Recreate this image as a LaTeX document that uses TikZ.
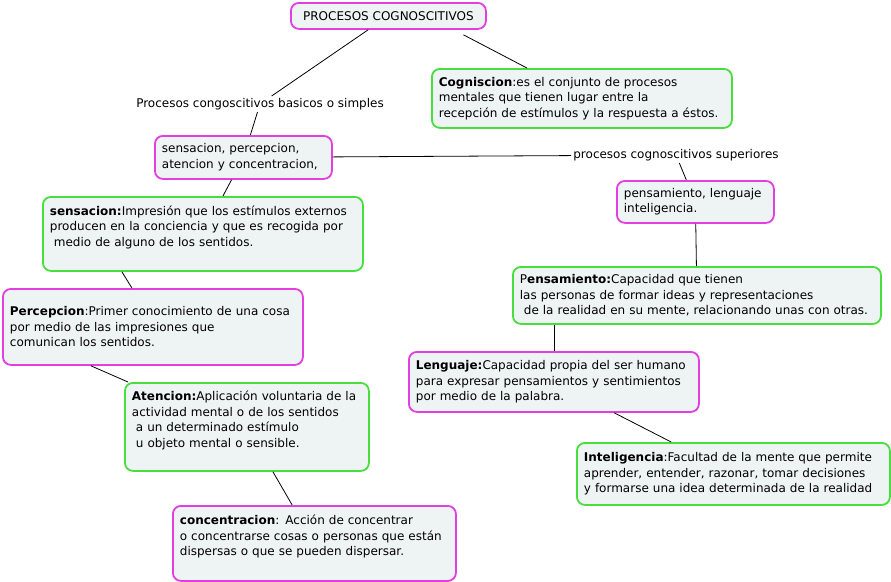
\documentclass[tikz,border=0pt]{standalone}
\usepackage{fontspec}
\setmainfont{DejaVu Sans}
\usepackage{tikz}
\usetikzlibrary{positioning}
\definecolor{cmpink}{RGB}{226,62,226}
\definecolor{cmgreen}{RGB}{72,222,62}
\definecolor{cmfill}{RGB}{238,243,244}

\begin{document}
\begin{tikzpicture}[x=1pt, y=-1pt, concept/.style={draw, rounded corners=8pt, line width=1.8pt, fill=cmfill, anchor=north west, align=left, inner xsep=7pt, inner ysep=2pt}, pinkbox/.style={concept, draw=cmpink}, greenbox/.style={concept, draw=cmgreen}, phrase/.style={inner sep=2pt}]
\tikzset{every node/.append style={font=\fontsize{12}{15.5}\selectfont}}
\useasboundingbox (0,0) rectangle (891,581);

\node[pinkbox, align=center, minimum width=195pt, minimum height=26pt] (title) at (290,2) {PROCESOS COGNOSCITIVOS};
\node[greenbox, minimum width=300pt, minimum height=59pt, text width=286pt] (cogni) at (431,68) {\textbf{Cogniscion}:es el conjunto de procesos\\mentales que tienen lugar entre la\\recepción de estímulos y la respuesta a éstos.};
\node[phrase] (lblbasic) at (260,104) {Procesos congoscitivos basicos o simples};
\node[pinkbox, minimum width=177pt, minimum height=43pt, text width=163pt] (basic) at (154,135) {sensacion, percepcion,\\atencion y concentracion,};
\node[phrase] (lblsuper) at (676,155) {procesos cognoscitivos superiores};
\node[pinkbox, minimum width=157pt, minimum height=42pt, text width=143pt] (super) at (616,180) {pensamiento, lenguaje\\inteligencia.};

% lado izquierdo
\node[greenbox, minimum width=320pt, minimum height=74pt, text width=306pt] (sens) at (42,196) {\textbf{sensacion:}Impresión que los estímulos externos\\producen en la conciencia y que es recogida por\\~medio de alguno de los sentidos.\\~};
\node[pinkbox, minimum width=300pt, minimum height=76pt, text width=286pt] (perc) at (2,288) {\textbf{Percepcion}:Primer conocimiento de una cosa\\por medio de las impresiones que\\comunican los sentidos.};
\node[greenbox, minimum width=244pt, minimum height=88pt, text width=230pt] (aten) at (124,382) {\textbf{Atencion:}Aplicación voluntaria de la\\actividad mental o de los sentidos\\~a un determinado estímulo\\~u objeto mental o sensible.\\~};
\node[pinkbox, minimum width=283pt, minimum height=75pt, text width=269pt] (conc) at (172,505) {\textbf{concentracion}: Acción de concentrar\\o concentrarse cosas o personas que están\\dispersas o que se pueden dispersar.\\~};

% lado derecho
\node[greenbox, minimum width=368pt, minimum height=57pt, text width=354pt] (pens) at (512,266) {P\textbf{ensamiento:}Capacidad que tienen\\las personas de formar ideas y representaciones\\~de la realidad en su mente, relacionando unas con otras.};
\node[pinkbox, minimum width=290pt, minimum height=60pt, text width=276pt] (leng) at (408,351) {\textbf{Lenguaje:}Capacidad propia del ser humano\\para expresar pensamientos y sentimientos\\por medio de la palabra.};
\node[greenbox, minimum width=313pt, minimum height=62pt, text width=299pt] (intel) at (576,442) {\textbf{Inteligencia}:Facultad de la mente que permite\\aprender, entender, razonar, tomar decisiones\\y formarse una idea determinada de la realidad};

\path[line width=0.8pt]
(title) edge (lblbasic)
([xshift=75pt,yshift=-5pt]title.south) edge ([xshift=-55pt]cogni.north)
(lblbasic) edge (basic)
(basic) edge (lblsuper)
    edge (sens)
(lblsuper) edge (super)
(super) edge (pens)
(leng.north |- pens.south) edge (leng.north)
(leng) edge (intel)
([xshift=-81pt]sens.south) edge ([xshift=-21pt]perc.north)
([xshift=-62pt]perc.south) edge ([xshift=4pt]aten.north west)
(aten) edge (conc)
;
\end{tikzpicture}
\end{document}
